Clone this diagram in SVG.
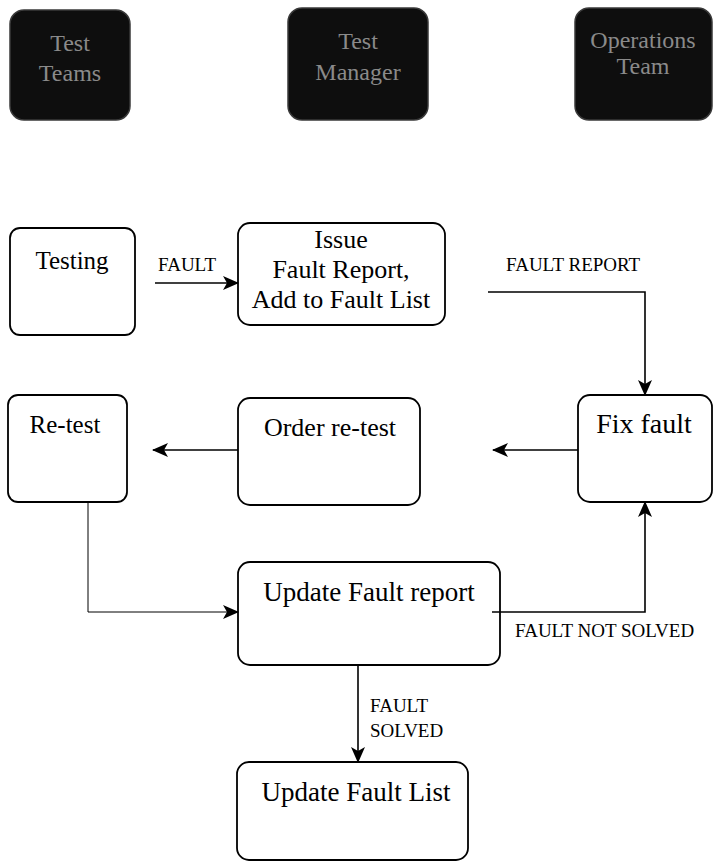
<svg xmlns="http://www.w3.org/2000/svg" width="715" height="863" viewBox="0 0 715 863">
<defs>
<style>
.role rect{fill:#0e0e0e;stroke:#3a3a3a;stroke-width:1.5}
.role text{font-family:"Liberation Serif",serif;font-size:24px;fill:#8a8a8a;text-anchor:middle}
.node rect{fill:#fff;stroke:#000;stroke-width:1.8}
.node text{font-family:"Liberation Serif",serif;font-size:26px;fill:#000;text-anchor:middle}
.conn path{fill:none;stroke:#000;stroke-width:1.6}
.conn path.thin{stroke-width:1}
.lbl{font-family:"Liberation Serif",serif;font-size:19px;fill:#000}
</style>
<marker id="ah" markerWidth="16" markerHeight="14" refX="15" refY="7" orient="auto" markerUnits="userSpaceOnUse">
<path d="M0,0 L16,7 L0,14 L4,7 Z" fill="#000"/>
</marker>
</defs>
<rect width="715" height="863" fill="#fff"/>

<g id="role-test-teams" class="role">
<rect x="10" y="10" width="120" height="110" rx="14"/>
<text x="70" y="51">Test</text>
<text x="70" y="81">Teams</text>
</g>
<g id="role-test-manager" class="role">
<rect x="288" y="8" width="140" height="112" rx="14"/>
<text x="358" y="49">Test</text>
<text x="358" y="80">Manager</text>
</g>
<g id="role-operations-team" class="role">
<rect x="575" y="8" width="137" height="112" rx="14"/>
<text x="643" y="48">Operations</text>
<text x="643" y="74">Team</text>
</g>

<g id="testing" class="node">
<rect x="10" y="228" width="125" height="107" rx="10"/>
<text x="72" y="269" style="font-size:25px">Testing</text>
</g>
<g id="issue-fault-report" class="node">
<rect x="238" y="223" width="207" height="102" rx="12"/>
<text x="341" y="248">Issue</text>
<text x="341" y="278">Fault Report,</text>
<text x="341" y="308">Add to Fault List</text>
</g>
<g id="re-test" class="node">
<rect x="8" y="395" width="119" height="107" rx="10"/>
<text x="65" y="433" style="font-size:25px">Re-test</text>
</g>
<g id="order-re-test" class="node">
<rect x="238" y="398" width="182" height="107" rx="12"/>
<text x="330" y="436">Order re-test</text>
</g>
<g id="fix-fault" class="node">
<rect x="578" y="395" width="134" height="107" rx="12"/>
<text x="644" y="433" style="font-size:28px">Fix fault</text>
</g>
<g id="update-fault-report" class="node">
<rect x="238" y="562" width="262" height="103" rx="12"/>
<text x="369" y="601" style="font-size:27px">Update Fault report</text>
</g>
<g id="update-fault-list" class="node">
<rect x="237" y="762" width="231" height="98" rx="12"/>
<text x="356" y="801" style="font-size:27px">Update Fault List</text>
</g>

<g id="connectors" class="conn">
<path d="M155,283 L238,283" marker-end="url(#ah)"/>
<path d="M488,292 L645,292 L645,395" marker-end="url(#ah)"/>
<path d="M238,450 L153,450" marker-end="url(#ah)"/>
<path d="M578,450 L493,450" marker-end="url(#ah)"/>
<path class="thin" d="M88,502 L88,612 L238,612" marker-end="url(#ah)"/>
<path d="M492,612 L645,612 L645,502" marker-end="url(#ah)"/>
<path d="M358,665 L358,762" marker-end="url(#ah)"/>
</g>

<g id="labels">
<text class="lbl" x="158" y="271">FAULT</text>
<text class="lbl" x="506" y="271">FAULT REPORT</text>
<text class="lbl" x="515" y="637">FAULT NOT SOLVED</text>
<text class="lbl" x="370" y="712">FAULT</text>
<text class="lbl" x="370" y="737">SOLVED</text>
</g>
</svg>
